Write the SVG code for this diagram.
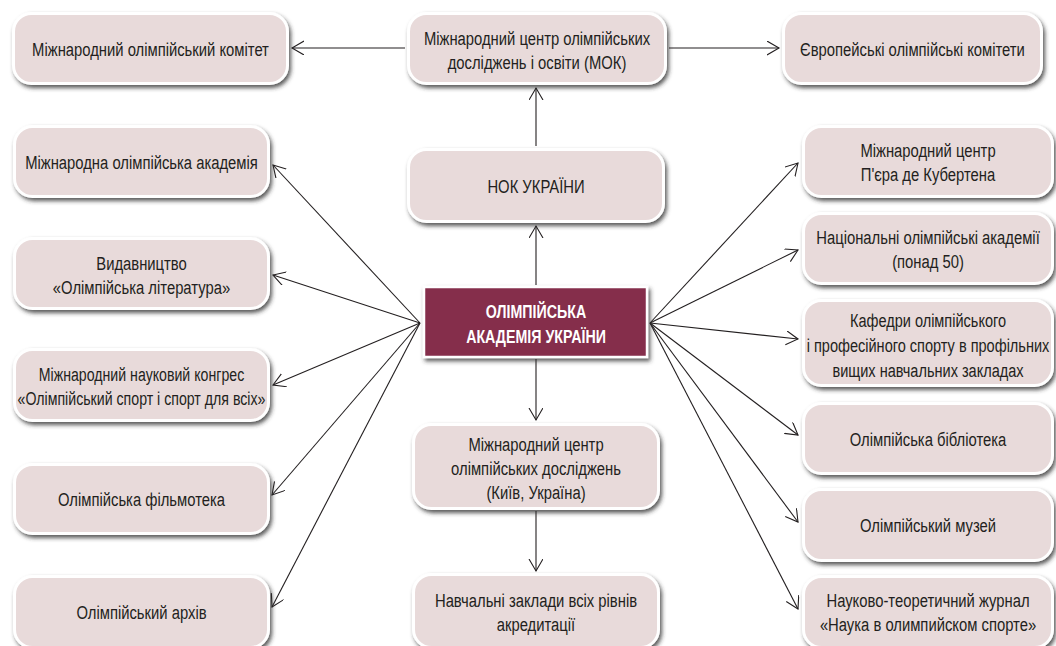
<svg xmlns="http://www.w3.org/2000/svg" width="1056" height="646" viewBox="0 0 1056 646">
<defs>
<filter id="sh" x="-10%" y="-20%" width="130%" height="150%">
<feDropShadow dx="2" dy="3" stdDeviation="2" flood-color="#333333" flood-opacity="0.8"/>
</filter>
<marker id="ah" markerUnits="userSpaceOnUse" markerWidth="16" markerHeight="16" refX="12" refY="7" orient="auto" viewBox="0 0 16 16">
<path d="M0,0 L12,7 L0,14" fill="none" stroke="#231f20" stroke-width="1.1"/>
</marker>
</defs>
<style>
.bx{fill:#e8dada;stroke:#ffffff;stroke-width:3;filter:url(#sh)}
.main{fill:#852e4b;stroke:#ffffff;stroke-width:2.5;filter:url(#sh)}
.t{font-family:"Liberation Sans",Arial,sans-serif;font-size:19px;fill:#231f20;text-anchor:middle}
.tw{font-family:"Liberation Sans",Arial,sans-serif;font-size:18px;font-weight:bold;fill:#ffffff;text-anchor:middle}
.c{fill:none;stroke:#231f20;stroke-width:1.1;marker-end:url(#ah)}
</style>
<rect width="1056" height="646" fill="#ffffff"/>

<g id="connectors">
<line class="c" x1="405" y1="48" x2="292" y2="48"/>
<line class="c" x1="669" y1="48" x2="779" y2="48"/>
<line class="c" x1="536" y1="146" x2="536" y2="88"/>
<line class="c" x1="536" y1="285" x2="536" y2="226"/>
<line class="c" x1="536" y1="359" x2="536" y2="420"/>
<line class="c" x1="536" y1="511" x2="536" y2="571"/>
<line class="c" x1="420" y1="323" x2="273" y2="165"/>
<line class="c" x1="420" y1="323" x2="273" y2="275"/>
<line class="c" x1="420" y1="323" x2="273" y2="385"/>
<line class="c" x1="420" y1="323" x2="272" y2="495"/>
<line class="c" x1="420" y1="323" x2="272" y2="607"/>
<line class="c" x1="650" y1="323" x2="798" y2="163"/>
<line class="c" x1="650" y1="323" x2="798" y2="250"/>
<line class="c" x1="650" y1="323" x2="798" y2="339"/>
<line class="c" x1="650" y1="323" x2="798" y2="435"/>
<line class="c" x1="650" y1="323" x2="798" y2="522"/>
<line class="c" x1="650" y1="323" x2="798" y2="609"/>
</g>

<g id="n-ioc">
<rect class="bx" x="13.5" y="13.5" width="274" height="70" rx="18"/>
<text class="t" transform="translate(150.5,0) scale(0.78,1)"><tspan x="0" y="56">Міжнародний олімпійський комітет</tspan></text>
</g>
<g id="n-center-mok">
<rect class="bx" x="408.5" y="13.5" width="257" height="70" rx="18"/>
<text class="t" transform="translate(537,0) scale(0.78,1)"><tspan x="0" y="45">Міжнародний центр олімпійських</tspan><tspan x="0" y="69">досліджень і освіти (МОК)</tspan></text>
</g>
<g id="n-eoc">
<rect class="bx" x="783.5" y="13.5" width="258" height="70" rx="18"/>
<text class="t" transform="translate(912.5,0) scale(0.78,1)"><tspan x="0" y="56">Європейські олімпійські комітети</tspan></text>
</g>

<g id="n-nok">
<rect class="bx" x="408.5" y="149.5" width="255" height="72" rx="18"/>
<text class="t" transform="translate(536,0) scale(0.78,1)"><tspan x="0" y="193">НОК УКРАЇНИ</tspan></text>
</g>
<g id="n-academy">
<rect class="main" x="424" y="287" width="223" height="70"/>
<text class="tw" transform="translate(536,0) scale(0.79,1)"><tspan x="0" y="318">ОЛІМПІЙСЬКА</tspan><tspan x="0" y="343">АКАДЕМІЯ УКРАЇНИ</tspan></text>
</g>
<g id="n-kyiv">
<rect class="bx" x="413.5" y="424.5" width="245" height="84" rx="18"/>
<text class="t" transform="translate(536,0) scale(0.78,1)"><tspan x="0" y="451">Міжнародний центр</tspan><tspan x="0" y="475">олімпійських досліджень</tspan><tspan x="0" y="499">(Київ, Україна)</tspan></text>
</g>
<g id="n-schools">
<rect class="bx" x="413.5" y="574.5" width="245" height="73" rx="18"/>
<text class="t" transform="translate(536,0) scale(0.78,1)"><tspan x="0" y="607">Навчальні заклади всіх рівнів</tspan><tspan x="0" y="631">акредитації</tspan></text>
</g>

<g id="n-ioa">
<rect class="bx" x="14.5" y="126.5" width="254" height="70" rx="18"/>
<text class="t" transform="translate(141.5,0) scale(0.78,1)"><tspan x="0" y="169">Міжнародна олімпійська академія</tspan></text>
</g>
<g id="n-publisher">
<rect class="bx" x="14.5" y="238.5" width="254" height="70" rx="18"/>
<text class="t" transform="translate(141.5,0) scale(0.78,1)"><tspan x="0" y="270">Видавництво</tspan><tspan x="0" y="294">«Олімпійська література»</tspan></text>
</g>
<g id="n-congress">
<rect class="bx" x="14.5" y="349.5" width="254" height="71" rx="18"/>
<text class="t" transform="translate(141.5,0) scale(0.745,1)"><tspan x="0" y="381">Міжнародний науковий конгрес</tspan><tspan x="0" y="405">«Олімпійський спорт і спорт для всіх»</tspan></text>
</g>
<g id="n-film">
<rect class="bx" x="14.5" y="464.5" width="254" height="69" rx="18"/>
<text class="t" transform="translate(141.5,0) scale(0.78,1)"><tspan x="0" y="506">Олімпійська фільмотека</tspan></text>
</g>
<g id="n-archive">
<rect class="bx" x="14.5" y="576.5" width="254" height="71" rx="18"/>
<text class="t" transform="translate(141.5,0) scale(0.78,1)"><tspan x="0" y="619">Олімпійський архів</tspan></text>
</g>

<g id="n-coubertin">
<rect class="bx" x="803.5" y="126.5" width="249" height="70" rx="18"/>
<text class="t" transform="translate(928,0) scale(0.78,1)"><tspan x="0" y="157">Міжнародний центр</tspan><tspan x="0" y="181">П'єра де Кубертена</tspan></text>
</g>
<g id="n-noa">
<rect class="bx" x="803.5" y="213.5" width="249" height="70" rx="18"/>
<text class="t" transform="translate(928,0) scale(0.78,1)"><tspan x="0" y="244">Національні олімпійські академії</tspan><tspan x="0" y="268">(понад 50)</tspan></text>
</g>
<g id="n-departments">
<rect class="bx" x="803.5" y="300.5" width="249" height="85" rx="18"/>
<text class="t" transform="translate(928,0) scale(0.765,1)"><tspan x="0" y="327">Кафедри олімпійського</tspan><tspan x="0" y="352">і професійного спорту в профільних</tspan><tspan x="0" y="377">вищих навчальних закладах</tspan></text>
</g>
<g id="n-library">
<rect class="bx" x="803.5" y="403.5" width="249" height="70" rx="18"/>
<text class="t" transform="translate(928,0) scale(0.78,1)"><tspan x="0" y="446">Олімпійська бібліотека</tspan></text>
</g>
<g id="n-museum">
<rect class="bx" x="803.5" y="489.5" width="249" height="71" rx="18"/>
<text class="t" transform="translate(928,0) scale(0.78,1)"><tspan x="0" y="532">Олімпійський музей</tspan></text>
</g>
<g id="n-journal">
<rect class="bx" x="803.5" y="576.5" width="249" height="71" rx="18"/>
<text class="t" transform="translate(928,0) scale(0.78,1)"><tspan x="0" y="607">Науково-теоретичний журнал</tspan><tspan x="0" y="631">«Наука в олимпийском спорте»</tspan></text>
</g>
</svg>
